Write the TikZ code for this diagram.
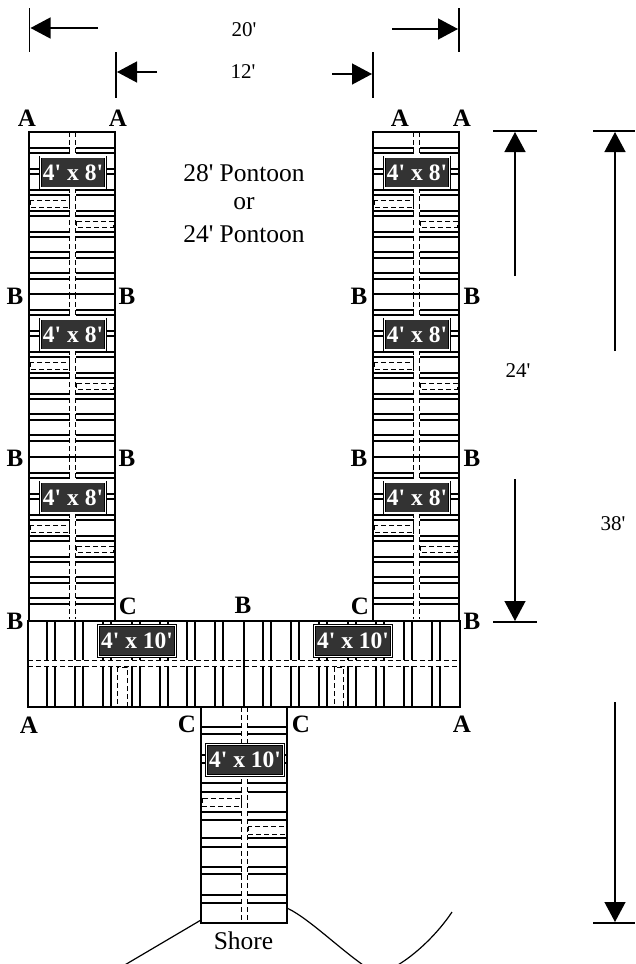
\documentclass[tikz,border=0pt]{standalone}
\usepackage{fontspec}
\setmainfont{Liberation Serif}
\usetikzlibrary{arrows.meta}
\definecolor{platedark}{HTML}{333333}
\newcommand{\ft}{\textquotesingle}
\tikzset{
  slat/.style={line width=1.2pt},
  joint/.style={line width=2.4pt},
  pier/.style={line width=1.6pt},
  gap/.style={fill=white,draw=none},
  seam/.style={line width=1pt,dash pattern=on 5pt off 3pt},
  plate/.style={draw=black,double=white,double distance=1.3pt,line width=.7pt,fill=platedark,
    text=white,font=\fontsize{23.5}{23.5}\selectfont\bfseries,inner sep=0pt,minimum height=31pt},
  letter/.style={font=\fontsize{25}{25}\selectfont\bfseries,inner sep=0pt},
  dimtext/.style={font=\fontsize{21}{21}\selectfont,inner sep=0pt},
  title/.style={font=\fontsize{25.5}{25.5}\selectfont,inner sep=0pt},
  tick/.style={line width=1.3pt},
  dim/.style={line width=1.3pt,-{Triangle[length=20pt,width=21pt]},shorten >=1pt}
}
\begin{document}
\begin{tikzpicture}[x=1pt,y=-1pt]
\useasboundingbox (0,0) rectangle (635,964);

\foreach \px in {0,344}{
  \foreach \py in {0,162,325}{
    \begin{scope}[xshift=\px pt,yshift=-\py pt]
    \foreach \sy in {148,153,169,174,190,195,211,216,232,237,252,258,273,279}
      \draw[slat] (29,\sy) -- (115,\sy);
    \fill[gap] (69.5,132) rectangle (75.5,294);
    \draw[seam] (69.5,132) -- (69.5,294);
    \draw[seam] (75.5,132) -- (75.5,294);
    \draw[seam,fill=white] (30,200) rectangle (69,207);
    \draw[seam,fill=white] (76,221) rectangle (113,227);
    \node[plate,minimum width=65pt] (plate\px\py) at (73,172.5) {4\ft{} x 8\ft};
    \end{scope}
  }
  \begin{scope}[xshift=\px pt]
  \draw[joint] (29,294) -- (115,294);
  \draw[joint] (29,457) -- (115,457);
  \draw[pier] (29,132) rectangle (115,621);
  \end{scope}
}

\foreach \sx in {47,55,75,83,103,111,132,140,160,168,187,195,215,223,263,271,291,299,319,327,348,356,376,384,404,412,432,440}
  \draw[slat] (\sx,621) -- (\sx,707);
\fill[gap] (28,660) rectangle (460,666);
\draw[seam] (28,660) -- (460,660);
\draw[seam] (28,666) -- (460,666);
\draw[seam,fill=white] (117,667) rectangle (127,706);
\draw[seam,fill=white] (334,667) rectangle (343,706);
\draw[pier] (28,621) rectangle (460,707);
\draw[joint] (244,621) -- (244,707);
\node[plate,minimum width=77pt] (plateL) at (137,641) {4\ft{} x 10\ft};
\node[plate,minimum width=77pt] (plateR) at (353,641) {4\ft{} x 10\ft};

\foreach \sy in {727,734,755,763,783,792,812,820,838,847,867,874,895,903}
  \draw[slat] (201,\sy) -- (287,\sy);
\fill[gap] (241.5,707) rectangle (247.5,923);
\draw[seam] (241.5,707) -- (241.5,923);
\draw[seam] (247.5,707) -- (247.5,923);
\draw[seam,fill=white] (202,798) rectangle (241,806);
\draw[seam,fill=white] (248,826) rectangle (286,834);
\draw[pier] (201,707) rectangle (287,923);
\node[plate,minimum width=77pt] (plateS) at (245,760) {4\ft{} x 10\ft};

\begin{scope}
\clip (0,0) rectangle (635,964);
\coordinate (shoreA) at (201,920);
\coordinate (shoreB) at (123,966);
\coordinate (shoreC) at (287,908);
\coordinate (shoreD) at (378,975);
\coordinate (shoreF) at (370,975);
\coordinate (shoreE) at (452,912);
\draw[slat] (shoreA) -- (shoreB);
\draw[slat] (shoreC) .. controls (312,920) and (345,955) .. (shoreD);
\draw[slat] (shoreF) .. controls (392,975) and (430,945) .. (shoreE);
\end{scope}

\node[letter] (a1) at (27,118) {A};
\node[letter] (a2) at (118,118) {A};
\node[letter] (a3) at (400,118) {A};
\node[letter] (a4) at (462,118) {A};
\node[letter] (b1) at (15,296) {B};
\node[letter] (b2) at (127,296) {B};
\node[letter] (b3) at (359,296) {B};
\node[letter] (b4) at (472,296) {B};
\node[letter] (b5) at (15,458) {B};
\node[letter] (b6) at (127,458) {B};
\node[letter] (b7) at (359,458) {B};
\node[letter] (b8) at (472,458) {B};
\node[letter] (b9) at (15,621) {B};
\node[letter] (b10) at (243,605) {B};
\node[letter] (b11) at (472,621) {B};
\node[letter] (c1) at (128,606) {C};
\node[letter] (c2) at (360,606) {C};
\node[letter] (c3) at (187,724) {C};
\node[letter] (c4) at (301,724) {C};
\node[letter] (a5) at (29,725) {A};
\node[letter] (a6) at (462,724) {A};

\node[title] (pont1) at (244,173) {28\ft{} Pontoon};
\node[title] (pont2) at (244,204) {or};
\node[title] (pont3) at (244,234) {24\ft{} Pontoon};
\node[title] (shore) at (243.5,941) {Shore};

\node[dimtext] (w20) at (244,30) {20\ft};
\node[dimtext] (w12) at (243,72) {12\ft};
\node[dimtext] (h24) at (518,371) {24\ft};
\node[dimtext] (h38) at (613,524) {38\ft};

\coordinate (t20l) at (29.5,28);
\coordinate (s20l) at (98,28);
\coordinate (t20r) at (459,29);
\coordinate (s20r) at (392,29);
\coordinate (t12l) at (116,72);
\coordinate (s12l) at (157,72);
\coordinate (t12r) at (373,74);
\coordinate (s12r) at (332,74);
\coordinate (t24u) at (515,131);
\coordinate (s24u) at (515,276);
\coordinate (t24d) at (515,622);
\coordinate (s24d) at (515,479);
\coordinate (t38u) at (615,131);
\coordinate (s38u) at (615,351);
\coordinate (t38d) at (615,923);
\coordinate (s38d) at (615,702);

\draw[tick] (29.5,8) -- (29.5,52);
\draw[tick] (459,8) -- (459,52);
\draw[tick] (116,52) -- (116,98);
\draw[tick] (373,52) -- (373,98);
\draw[tick] (493,131) -- (537,131);
\draw[tick] (493,622) -- (537,622);
\draw[tick] (593,131) -- (635,131);
\draw[tick] (593,923) -- (635,923);
\draw[dim] (s20l) -- (t20l);
\draw[dim] (s20r) -- (t20r);
\draw[dim] (s12l) -- (t12l);
\draw[dim] (s12r) -- (t12r);
\draw[dim] (s24u) -- (t24u);
\draw[dim] (s24d) -- (t24d);
\draw[dim] (s38u) -- (t38u);
\draw[dim] (s38d) -- (t38d);
\end{tikzpicture}
\end{document}
